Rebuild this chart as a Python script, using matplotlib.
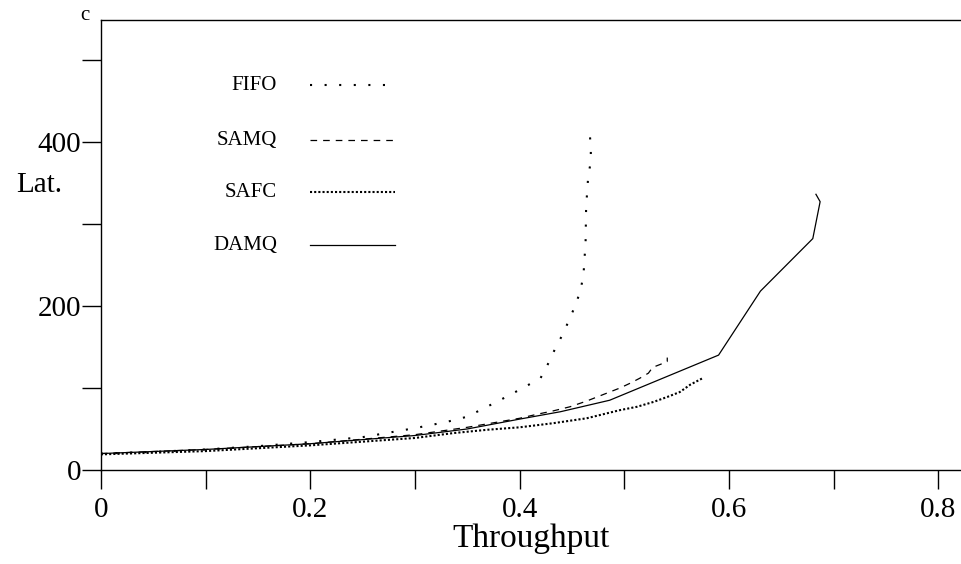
import matplotlib
matplotlib.use("Agg")
import matplotlib.pyplot as plt

plt.rcParams['font.family'] = ['Liberation Serif', 'DejaVu Serif']

fifo_x = [0.0, 0.05, 0.1, 0.15, 0.2, 0.25, 0.3, 0.32, 0.335, 0.35, 0.364, 0.378, 0.393, 0.406, 0.42, 0.427, 0.434, 0.441, 0.447, 0.453, 0.458, 0.461, 0.462, 0.463, 0.4635, 0.4655, 0.468, 0.468, 0.467]
fifo_y = [20, 22, 25, 29, 34, 40, 51, 56, 60, 65, 74, 83, 93, 102, 112, 129, 148, 165, 182, 200, 218, 238, 258, 278, 320, 358, 376, 394, 409]

samq_x = [0.0, 0.1, 0.2, 0.3, 0.35, 0.4, 0.417, 0.432, 0.448, 0.464, 0.482, 0.496, 0.506, 0.515, 0.523, 0.527, 0.537, 0.541, 0.541]
samq_y = [20, 25, 32, 43, 52, 63, 68, 72, 77, 84, 93, 100, 106, 112, 118, 125, 130, 132, 137]

safc_x = [0.0, 0.1, 0.2, 0.3, 0.337, 0.369, 0.4, 0.432, 0.464, 0.48, 0.496, 0.512, 0.528, 0.541, 0.553, 0.563, 0.575]
safc_y = [19, 23, 30, 39, 45, 49, 52, 57, 63, 68, 73, 77, 83, 89, 95, 104, 112]

damq_x = [0.0, 0.1, 0.2, 0.3, 0.35, 0.4, 0.439, 0.486, 0.59, 0.63, 0.68, 0.687, 0.683]
damq_y = [20, 25, 32, 42, 50, 62, 71, 85, 140, 218, 282, 327, 336]

labels = ["FIFO", "SAMQ", "SAFC", "DAMQ"]

fig = plt.figure(figsize=(9.62, 5.64), dpi=100)
ax = fig.add_axes([0.1048, 0.1667, 0.8952, 0.7987])

styles = [
    dict(linestyle=(0, (1, 6)), linewidth=1.5),
    dict(linestyle=(0, (5.3, 4.8)), linewidth=0.9),
    dict(linestyle=(0, (1, 1)), linewidth=1.5),
    dict(linestyle='-', linewidth=0.9),
]
data = [(fifo_x, fifo_y), (samq_x, samq_y), (safc_x, safc_y), (damq_x, damq_y)]
for (xs, ys), st, lab in zip(data, styles, labels):
    ax.plot(xs, ys, color='black', label=lab, **st)

# legend drawn manually (axes coordinates)
leg_y = [0.8546, 0.7325, 0.617, 0.4994]
for st, lab, ly in zip(styles, labels, leg_y):
    ax.text(0.2046, ly, lab, transform=ax.transAxes, fontsize=15, ha='right', va='center')
    ax.plot([0.243, 0.3416], [ly, ly], transform=ax.transAxes, color='black', **st)

ax.set_xlim(0, 0.8225)
ax.set_ylim(0, 549)
ax.spines['right'].set_visible(False)
for s in ['left', 'bottom', 'top']:
    ax.spines[s].set_linewidth(1.0)

ax.set_xticks([0, 0.2, 0.4, 0.6, 0.8])
ax.set_xticklabels(['0', '0.2', '0.4', '0.6', '0.8'])
ax.set_xticks([0.1, 0.3, 0.5, 0.7], minor=True)
ax.set_yticks([0, 200, 400])
ax.set_yticklabels(['0', '200', '400'])
ax.set_yticks([100, 300, 500], minor=True)
ax.tick_params(axis='both', which='both', direction='out', length=13.5, width=1.0, color='black')
ax.tick_params(axis='x', which='major', labelsize=21, pad=6)
ax.tick_params(axis='y', which='major', labelsize=21, pad=0.5)

ax.set_xlabel('Throughput', fontsize=24, labelpad=0)
ax.text(-0.045, 0.6326, 'Lat.', transform=ax.transAxes, fontsize=21, ha='right', va='center')
ax.text(-0.0185, 1.0, 'c', transform=ax.transAxes, fontsize=15, ha='center', va='baseline')

fig.savefig('out.png', dpi=100)
